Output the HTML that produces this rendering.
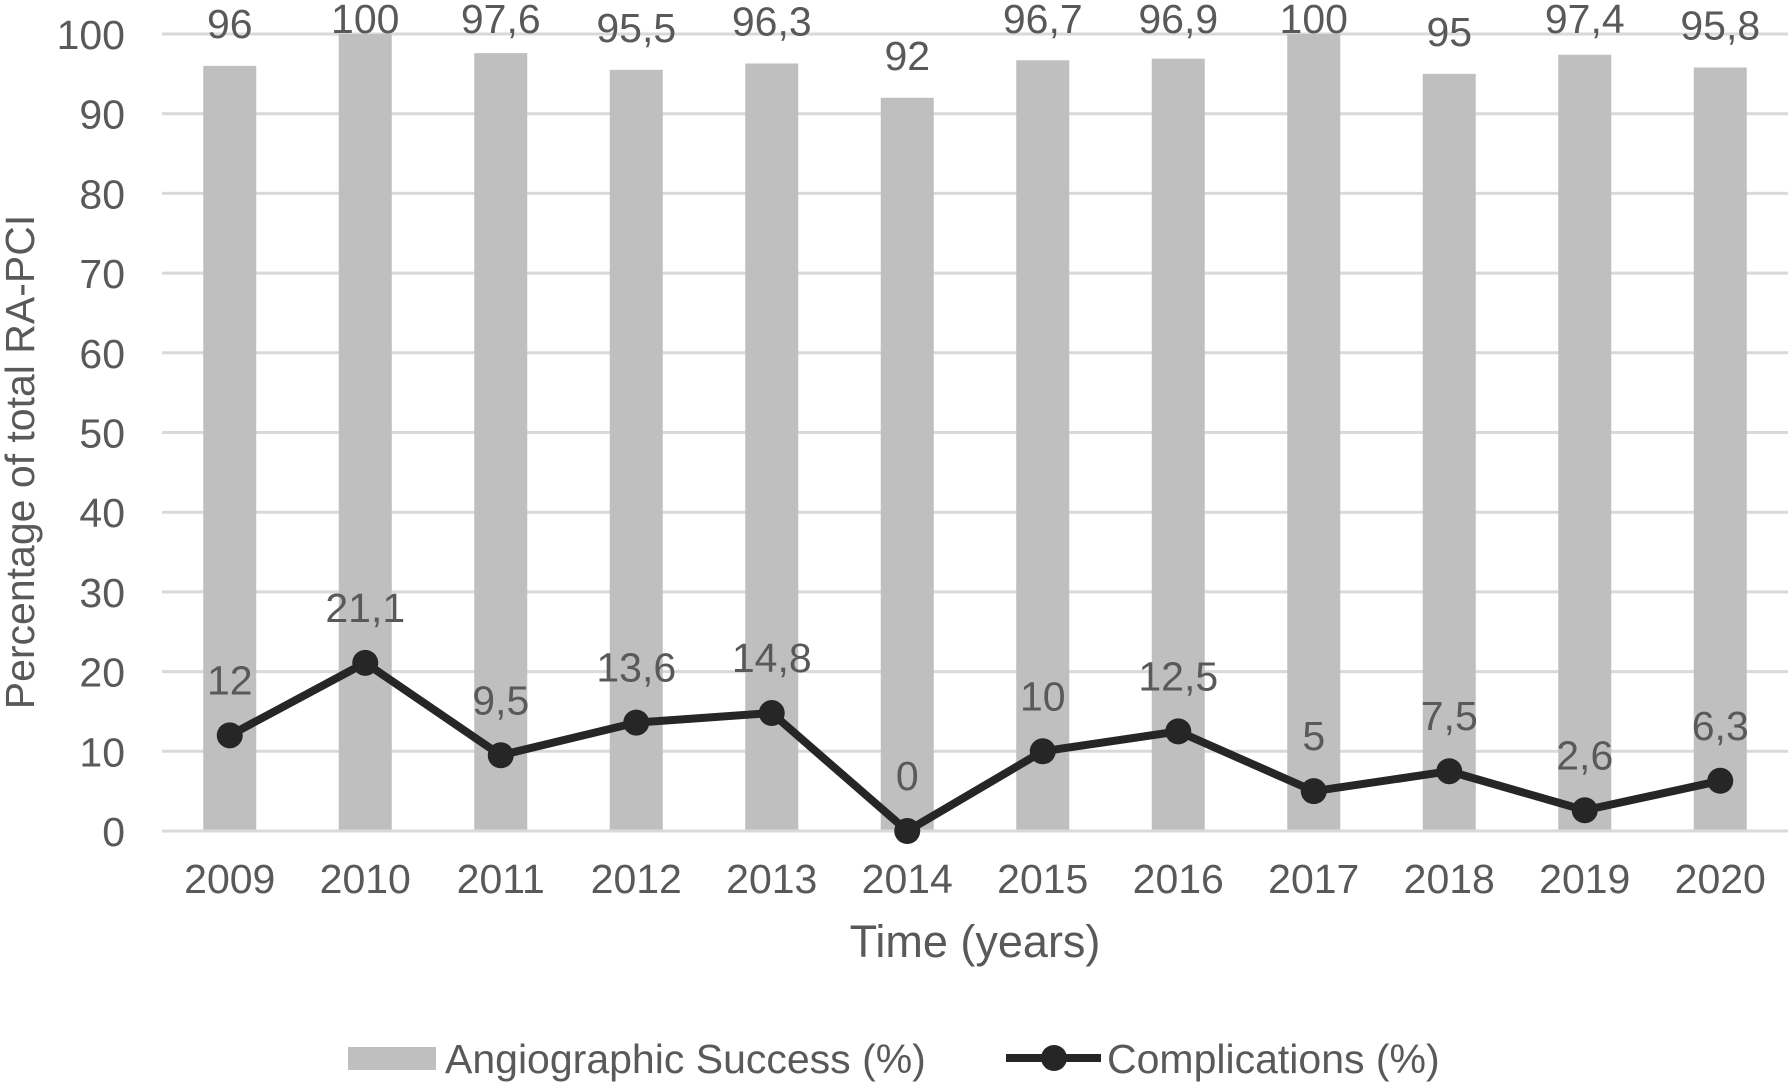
<!DOCTYPE html>
<html><head><meta charset="utf-8"><style>
body{margin:0;background:#fff}
svg text{font-family:"Liberation Sans",sans-serif;fill:#595959}
</style></head><body>
<svg id="c" width="1789" height="1082" xmlns="http://www.w3.org/2000/svg"></svg>
<script>
const categories=["2009","2010","2011","2012","2013","2014","2015","2016","2017","2018","2019","2020"];
const successValues=[96,100,97.6,95.5,96.3,92,96.7,96.9,100,95,97.4,95.8];
const complicationValues=[12,21.1,9.5,13.6,14.8,0,10,12.5,5,7.5,2.6,6.3];
const yTicks=[0,10,20,30,40,50,60,70,80,90,100];
const NS="http://www.w3.org/2000/svg";
const svg=document.getElementById('c');
const L=162,R=1788,T=34,B=831;
const step=(R-L)/categories.length;
const x=i=>L+step*(i+0.5);
const y=v=>B-(v/100)*(B-T);
function el(t,a,txt){const e=document.createElementNS(NS,t);for(const k in a)e.setAttribute(k,a[k]);if(txt!==undefined)e.textContent=txt;svg.appendChild(e);return e;}
const fmt=v=>String(v).replace('.',',');
yTicks.forEach(v=>{
const g=el('line',{x1:L,x2:R,y1:y(v),y2:y(v),stroke:'#d9d9d9','stroke-width':3});


const t=el('text',{x:125,y:y(v)+15,'text-anchor':'end','font-size':41},v);


});
successValues.forEach((v,i)=>{
const r=el('rect',{x:x(i)-26.5,y:y(v),width:53,height:B-y(v),fill:'#bfbfbf'});


const t=el('text',{x:x(i),y:Math.max(y(v)-28,33),'text-anchor':'middle','font-size':41},fmt(v));


});
const ax=el('line',{x1:L,x2:R,y1:B,y2:B,stroke:'#d9d9d9','stroke-width':3});


const pts=complicationValues.map((v,i)=>x(i)+','+y(v)).join(' ');
const pl=el('polyline',{points:pts,fill:'none',stroke:'#262626','stroke-width':8,'stroke-linejoin':'round'});


complicationValues.forEach((v,i)=>{
const c=el('circle',{cx:x(i),cy:y(v),r:13,fill:'#262626'});


const t=el('text',{x:x(i),y:y(v)-41,'text-anchor':'middle','font-size':41},fmt(v));


});
categories.forEach((c,i)=>{
const t=el('text',{x:x(i),y:893,'text-anchor':'middle','font-size':41},c);


});
const xt=el('text',{x:975,y:957,'text-anchor':'middle','font-size':45},'Time (years)');


const yt=el('text',{x:0,y:0,'text-anchor':'middle','font-size':41,transform:'translate(34,462) rotate(-90)'},'Percentage of total RA-PCI');


const s1=el('rect',{x:348,y:1047,width:88,height:23,fill:'#bfbfbf'});


const l1=el('text',{x:445,y:1073,'font-size':41},'Angiographic Success (%)');


const s2=el('line',{x1:1006,x2:1101,y1:1058,y2:1058,stroke:'#262626','stroke-width':8});


const s3=el('circle',{cx:1054,cy:1058,r:13,fill:'#262626'});


const l2=el('text',{x:1107,y:1073,'font-size':41},'Complications (%)');


</script>
</body></html>
